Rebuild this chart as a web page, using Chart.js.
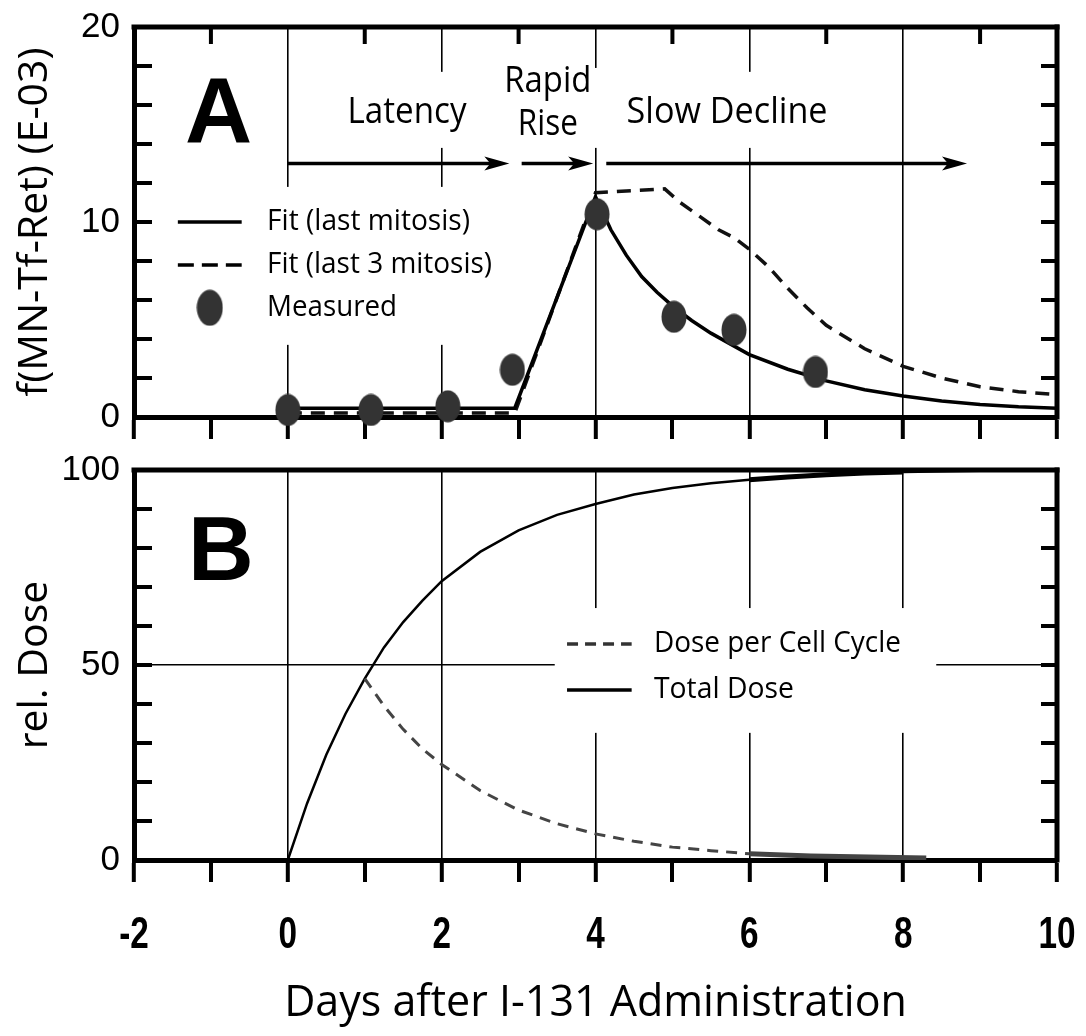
<!DOCTYPE html>
<html>
<head>
<meta charset="utf-8">
<title>MN-Tf-Ret and relative dose</title>
<script src="https://cdn.jsdelivr.net/npm/chart.js@4.4.1/dist/chart.umd.min.js"></script>
<style>
  body { margin: 0; background: #fff; }
  #wrap { position: relative; width: 1086px; height: 1036px; overflow: hidden; }
  canvas { position: absolute; left: 0; }
  #chartA { top: 0; }
  #chartB { top: 445px; }
</style>
</head>
<body>
<div id="wrap">
  <canvas id="chartA" width="1086" height="445"></canvas>
  <canvas id="chartB" width="1086" height="591"></canvas>
</div>
<script>
// ---- data ----
const xTickLabels = [-2, 0, 2, 4, 6, 8, 10];
const yTickLabelsA = [0, 10, 20];
const yTickLabelsB = [0, 50, 100];

// panel A: f(MN-Tf-Ret) in units of 1E-03
const measDays = [0, 1.08, 2.08, 2.92, 4.02, 5.02, 5.8, 6.86];
const measured = [0.36, 0.36, 0.55, 2.42, 10.4, 5.14, 4.47, 2.31];

const fitDays = [0, 2.95, 4.0, 4.2, 4.4, 4.6, 4.8, 5.0, 5.25, 5.5, 5.75, 6.0, 6.5, 7.0, 7.5, 8.0, 8.5, 9.0, 9.5, 10];
const fitLast = [0.45, 0.45, 11.3, 9.6, 8.3, 7.2, 6.4, 5.7, 4.95, 4.3, 3.75, 3.2, 2.45, 1.85, 1.4, 1.08, 0.82, 0.64, 0.52, 0.45];

const fit3Days = [0, 2.95, 4.0, 4.9, 5.1, 5.35, 5.6, 5.8, 6.0, 6.25, 6.5, 6.75, 7.0, 7.5, 8.0, 8.5, 9.0, 9.5, 10];
const fitLast3 = [0.2, 0.2, 11.5, 11.7, 11.0, 10.3, 9.6, 9.2, 8.6, 7.7, 6.6, 5.6, 4.7, 3.5, 2.6, 2.0, 1.55, 1.3, 1.15];

// panel B: relative dose (%)
const doseDays = [0, 0.25, 0.5, 0.75, 1, 1.25, 1.5, 1.75, 2, 2.5, 3, 3.5, 4, 4.5, 5, 5.5, 6, 6.5, 7, 7.5, 8, 9, 10];
const totalDose = [0, 14.5, 27, 37.5, 46.5, 54.5, 61, 66.5, 71.5, 79, 84.5, 88.5, 91.3, 93.7, 95.4, 96.6, 97.5, 98.2, 98.8, 99.2, 99.5, 99.8, 100];

const cycleDays = [1, 1.25, 1.5, 1.75, 2, 2.5, 3, 3.5, 4, 4.5, 5, 5.5, 6, 6.8, 8.3];
const cycleDose = [46.5, 39.5, 33.5, 28.5, 24.5, 17.8, 12.8, 9.3, 6.7, 4.8, 3.3, 2.4, 1.6, 1.0, 0.5];

// phase arrows in panel A (days)
const phaseArrows = [[0, 2.88], [3.04, 3.97], [4.14, 8.83]];
const phaseLevel = 13;

// ---- styling ----
const sans = '"Open Sans", "Noto Sans", sans-serif';
const heavy = '"Liberation Sans", Arial, sans-serif';

const pts = (xs, ys) => xs.map((x, i) => ({x: x, y: ys[i]}));

function ellipseDot(w, h) {
    const c = document.createElement('canvas');
    c.width = w; c.height = h;
    const g = c.getContext('2d');
    g.fillStyle = '#333';
    g.beginPath();
    g.ellipse(w / 2, h / 2, w / 2 - 0.5, h / 2 - 0.5, 0, 0, Math.PI * 2);
    g.fill();
    return c;
}
const dot = ellipseDot(26, 33);
const legendDot = ellipseDot(27, 37);

// white boxes, annotations, legend, inner ticks, frame, condensed day labels
function decor(cfg) {
    return {
        id: 'decor',
        beforeDatasetsDraw(chart) {
            const {ctx, scales: {x, y}} = chart;
            const px = v => x.getPixelForValue(v), py = v => y.getPixelForValue(v);
            ctx.save();
            ctx.fillStyle = '#fff';
            cfg.boxes.forEach(([x0, x1, y0, y1]) => {
                ctx.fillRect(px(x0), py(y1), px(x1) - px(x0), py(y0) - py(y1));
            });

            ctx.fillStyle = '#000';
            ctx.textBaseline = 'alphabetic';
            cfg.texts.forEach(t => {
                ctx.font = t.font;
                ctx.textAlign = t.align || 'center';
                ctx.fillText(t.text, px(t.x), py(t.y), t.maxWidth);
            });

            // arrows
            ctx.strokeStyle = '#000';
            ctx.lineWidth = 3.5;
            (cfg.arrows || []).forEach(([a, b]) => {
                const yy = py(phaseLevel), xa = px(a), xb = px(b);
                ctx.beginPath();
                ctx.moveTo(xa, yy);
                ctx.lineTo(xb - 16, yy);
                ctx.stroke();
                ctx.beginPath();
                ctx.moveTo(xb, yy);
                ctx.lineTo(xb - 25, yy - 7);
                ctx.lineTo(xb - 19, yy);
                ctx.lineTo(xb - 25, yy + 7);
                ctx.closePath();
                ctx.fill();
            });

            // legend
            cfg.legend.forEach(e => {
                const yy = py(e.y);
                if (e.kind === 'dot') {
                    ctx.drawImage(legendDot, (px(e.x0) + px(e.x1)) / 2 - legendDot.width / 2, yy - legendDot.height / 2);
                } else {
                    ctx.strokeStyle = e.color || '#000';
                    ctx.lineWidth = e.width;
                    ctx.setLineDash(e.dash || []);
                    ctx.beginPath();
                    ctx.moveTo(px(e.x0), yy);
                    ctx.lineTo(px(e.x1), yy);
                    ctx.stroke();
                    ctx.setLineDash([]);
                }
                ctx.fillStyle = '#000';
                ctx.font = e.font;
                ctx.textAlign = 'left';
                ctx.textBaseline = 'middle';
                ctx.fillText(e.text, px(e.tx), yy, e.maxWidth);
            });
            ctx.restore();
        },
        afterDatasetsDraw(chart) {
            const {ctx, chartArea: a, scales: {x, y}} = chart;
            const line = (x1, y1, x2, y2) => {
                ctx.beginPath(); ctx.moveTo(x1, y1); ctx.lineTo(x2, y2); ctx.stroke();
            };
            ctx.save();
            ctx.strokeStyle = '#000';
            ctx.lineWidth = 4;
            y.ticks.forEach(t => {
                if (t.value <= y.min || t.value >= y.max) return;
                const p = y.getPixelForValue(t.value);
                line(a.left, p, a.left + 18, p);
                line(a.right - 16, p, a.right, p);
            });
            if (cfg.topTicks) {
                x.ticks.forEach(t => {
                    if (Math.abs(t.value % 2) !== 1) return;
                    const p = x.getPixelForValue(t.value);
                    line(p, a.top, p, a.top + 17);
                });
            }
            ctx.lineWidth = 5;
            ctx.lineCap = 'square';
            line(a.left, a.top, a.right, a.top);
            line(a.right, a.top, a.right, a.bottom);

            // condensed bold day labels under the lower panel
            if (cfg.dayLabels) {
                ctx.fillStyle = '#000';
                ctx.font = 'bold 45px ' + heavy;
                ctx.textAlign = 'center';
                ctx.textBaseline = 'middle';
                xTickLabels.forEach(v => {
                    const s = String(v);
                    const w = ctx.measureText(s).width * 0.74;
                    ctx.fillText(s, x.getPixelForValue(v), a.bottom + 76, w);
                });
            }
            ctx.restore();
        }
    };
}

function xScale(height, title) {
    return {
        type: 'linear', min: -2, max: 10,
        afterFit: s => { s.height = height; s.paddingLeft = 0; s.paddingRight = 0; },
        border: {display: true, color: '#000', width: 5},
        grid: {
            color: c => (c.tick && c.tick.value % 2 === 0) ? '#000' : 'rgba(0,0,0,0)',
            lineWidth: c => (c.tick && c.tick.value % 2 === 0) ? 1.6 : 0,
            drawTicks: true, tickLength: 22, tickWidth: 4, tickColor: '#000'
        },
        ticks: {display: false, stepSize: 1, autoSkip: false, maxRotation: 0},
        title: title ? {
            display: true, text: title, color: '#000',
            font: {family: sans, size: 43}, padding: {top: 0, bottom: 6}
        } : {display: false}
    };
}

function yScale(max, step, labels, title, gridAt) {
    return {
        type: 'linear', min: 0, max: max,
        afterFit: s => { s.width = 134; s.paddingTop = 0; s.paddingBottom = 0; },
        border: {display: true, color: '#000', width: 5},
        grid: {
            display: gridAt !== null,
            drawTicks: false,
            color: c => (c.tick && c.tick.value === gridAt) ? '#000' : 'rgba(0,0,0,0)',
            lineWidth: c => (c.tick && c.tick.value === gridAt) ? 1.6 : 0
        },
        ticks: {
            stepSize: step, autoSkip: false, color: '#000', padding: 14,
            font: {family: heavy, size: 35},
            callback: v => labels.includes(v) ? String(v) : ''
        },
        title: {
            display: true, text: title, color: '#000',
            font: {family: sans, size: 41}, padding: {top: 11, bottom: 0}
        }
    };
}

const common = {
    responsive: false,
    animation: false,
    events: [],
    plugins: {legend: {display: false}, tooltip: {enabled: false}}
};

// ---- panel A ----
new Chart(document.getElementById('chartA'), {
    type: 'scatter',
    data: {
        datasets: [
            {
                label: 'Measured', data: pts(measDays, measured),
                pointStyle: dot, pointRadius: 14, pointHoverRadius: 14, showLine: false, clip: false
            },
            {
                label: 'Fit (last mitosis)', data: pts(fitDays, fitLast), showLine: true,
                borderColor: '#000', borderWidth: 3.5, pointRadius: 0, tension: 0
            },
            {
                label: 'Fit (last 3 mitosis)', data: pts(fit3Days, fitLast3), showLine: true,
                borderColor: '#111', borderWidth: 3.5, borderDash: [14, 9], pointRadius: 0, tension: 0
            }
        ]
    },
    options: Object.assign({}, common, {
        layout: {padding: {top: 27, right: 29, left: 0, bottom: 0}},
        scales: {
            x: xScale(28, null),
            y: yScale(20, 2, yTickLabelsA, 'f(MN-Tf-Ret) (E-03)', null)
        }
    }),
    plugins: [decor({
        topTicks: true,
        arrows: phaseArrows,
        boxes: [
            [0.61, 2.52, 13.8, 17.7],
            [2.76, 4.08, 13.8, 17.9],
            [4.21, 7.24, 13.8, 17.7],
            [-1.66, 2.82, 3.7, 11.8]
        ],
        texts: [
            {text: 'A', x: -0.9, y: 14.1, font: 'bold 93px ' + heavy},
            {text: 'Latency', x: 1.55, y: 15.1, font: '36px ' + sans, maxWidth: 119},
            {text: 'Rapid', x: 3.38, y: 16.67, font: '36px ' + sans, maxWidth: 87},
            {text: 'Rise', x: 3.38, y: 14.46, font: '36px ' + sans, maxWidth: 60},
            {text: 'Slow Decline', x: 5.71, y: 15.1, font: '36px ' + sans, maxWidth: 201}
        ],
        legend: [
            {kind: 'line', x0: -1.43, x1: -0.6, y: 10.0, width: 3.5, tx: -0.27,
             text: 'Fit (last mitosis)', font: '29px ' + sans, maxWidth: 203},
            {kind: 'line', x0: -1.43, x1: -0.6, y: 7.8, width: 3.5, dash: [16, 8], tx: -0.27,
             text: 'Fit (last 3 mitosis)', font: '29px ' + sans, maxWidth: 225},
            {kind: 'dot', x0: -1.43, x1: -0.6, y: 5.6, tx: -0.27,
             text: 'Measured', font: '29px ' + sans, maxWidth: 130}
        ]
    })]
});

// ---- panel B ----
new Chart(document.getElementById('chartB'), {
    type: 'scatter',
    data: {
        datasets: [
            {
                label: 'Dose per Cell Cycle', data: pts(cycleDays, cycleDose), showLine: true,
                borderColor: '#444', borderWidth: 3, borderDash: [11, 8], pointRadius: 0, tension: 0,
                segment: {
                    borderDash: c => c.p0.parsed.x >= 6 ? [] : undefined,
                    borderWidth: c => c.p0.parsed.x >= 6 ? 5 : undefined
                }
            },
            {
                label: 'Total Dose', data: pts(doseDays, totalDose), showLine: true,
                borderColor: '#000', borderWidth: 2.5, pointRadius: 0, tension: 0,
                segment: {
                    borderWidth: c => (c.p0.parsed.x >= 6 && c.p1.parsed.x <= 8) ? 5 : undefined
                }
            }
        ]
    },
    options: Object.assign({}, common, {
        layout: {padding: {top: 25, right: 29, left: 0, bottom: 0}},
        scales: {
            x: xScale(176, 'Days after I-131 Administration'),
            y: yScale(100, 10, yTickLabelsB, 'rel. Dose', 50)
        }
    }),
    plugins: [decor({
        topTicks: false,
        dayLabels: true,
        boxes: [
            [3.47, 8.43, 32.6, 64.6]
        ],
        texts: [
            {text: 'B', x: -0.87, y: 71.8, font: 'bold 91px ' + heavy}
        ],
        legend: [
            {kind: 'line', x0: 3.63, x1: 4.47, y: 55.4, width: 3.5, dash: [11, 7], color: '#333', tx: 4.76,
             text: 'Dose per Cell Cycle', font: '29px ' + sans, maxWidth: 247},
            {kind: 'line', x0: 3.63, x1: 4.47, y: 43.6, width: 3.5, tx: 4.76,
             text: 'Total Dose', font: '29px ' + sans, maxWidth: 140}
        ]
    })]
});
</script>
</body>
</html>
